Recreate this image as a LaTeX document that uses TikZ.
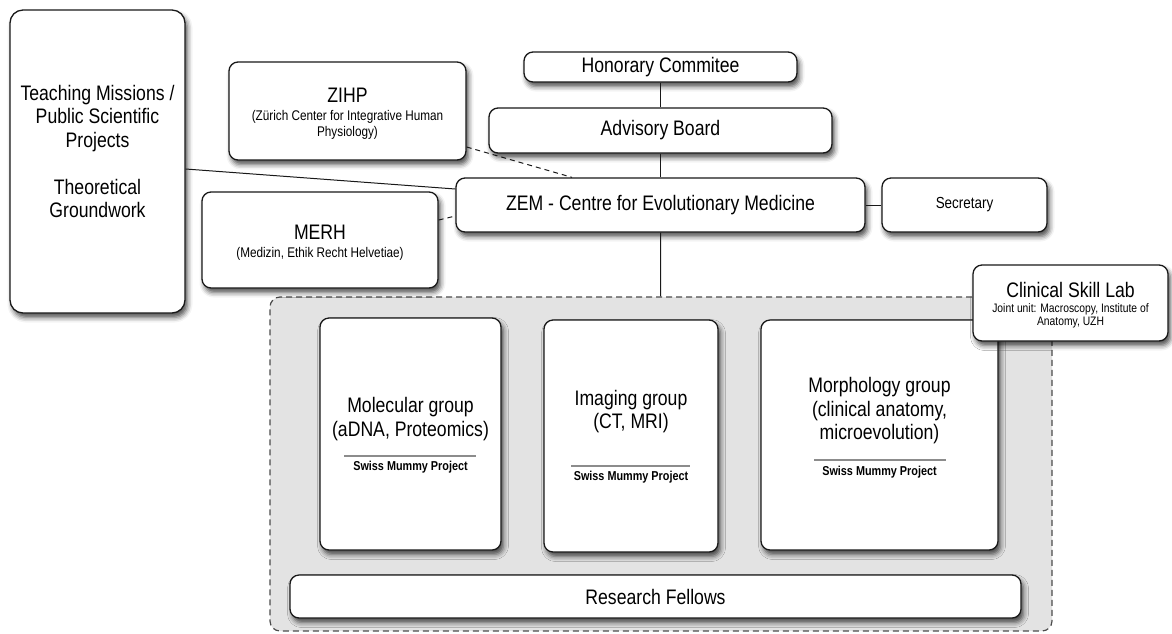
\documentclass[tikz,border=0pt]{standalone}
\usepackage{fontspec}
\setmainfont{Liberation Sans}[FakeStretch=0.84]
\usetikzlibrary{shadows.blur}

\newcommand\bigtxt{\fontsize{21}{23.5}\selectfont}
\newcommand\sectxt{\fontsize{16}{18}\selectfont}
\newcommand\subtxt{\fontsize{14}{16}\selectfont}
\newcommand\jointtxt{\fontsize{12.3}{13.5}\selectfont}
\newcommand\swisstxt{\fontsize{12.9}{14}\selectfont\bfseries}

\begin{document}
\begin{tikzpicture}[x=1pt,y=-1pt,
  box/.style={draw=black!90, line width=1.3pt, rounded corners=9pt, fill=white, inner sep=0pt, align=center, font=\bigtxt,
    blur shadow={shadow xshift=2.5pt, shadow yshift=-4.5pt, shadow blur radius=5pt, shadow opacity=70}},
  link/.style={black!90, line width=1pt},
  dlink/.style={link, dash pattern=on 5pt off 4pt},
  grayrule/.style={black!45, line width=1.2pt}]
\useasboundingbox (0,0) rectangle (1172,633);

\node [draw=black!70, line width=1.2pt, dash pattern=on 6pt off 4pt, rounded corners=10pt, left color=black!11, middle color=black!2, right color=black!11, minimum width=782pt, minimum height=334pt] (unit) at (661,464) {};

\node [box, rounded corners=13pt, minimum width=175pt, minimum height=303pt] (teach) at (97.5,161.5) {};
\node [font=\bigtxt, align=center] (teachtxt) at (97.5,151.5) {Teaching Missions /\\Public Scientific\\Projects\\[23.5pt]Theoretical\\Groundwork};

\node [box, minimum width=237pt, minimum height=98pt] (zihp) at (347.5,111) {};
\node [font=\bigtxt] (zihpname) at (347.5,95) {ZIHP};
\node [font=\subtxt, align=center] (zihpsub) at (347.5,125) {(Zürich Center for Integrative Human\\Physiology)};

\node [box, minimum width=236pt, minimum height=96pt] (merh) at (320,240) {};
\node [font=\bigtxt] (merhname) at (320,232) {MERH};
\node [font=\subtxt] (merhsub) at (320,254) {(Medizin, Ethik Recht Helvetiae)};

\node [box, minimum width=273pt, minimum height=30pt] (hon) at (660.5,67) {Honorary Commitee};
\node [box, minimum width=343pt, minimum height=45pt] (adv) at (660.5,130.5) {Advisory Board};
\node [box, minimum width=409pt, minimum height=54pt] (zem) at (660.5,205) {ZEM - Centre for Evolutionary Medicine};
\node [box, font=\sectxt, minimum width=165pt, minimum height=54pt] (sec) at (964.5,205) {Secretary};

\draw [link] (hon) -- (adv);
\draw [link] (adv) -- (zem);
\draw [link] (zem) -- (sec);
\draw [link] (zem) -- (unit);
\draw [link] ([yshift=-7.5pt]teach.east) -- ([yshift=16pt]zem.west);
\draw [dlink] ([yshift=20pt]merh.east) -- ([yshift=-11pt]zem.west);
\draw [dlink] ([yshift=-36pt]zihp.east) -- ([xshift=-88.5pt]zem.north);

\node [box, minimum width=181pt, minimum height=232pt] (mol) at (410.5,434) {};
\node [font=\bigtxt, align=center] (moltxt) at (410.5,419) {Molecular group\\(aDNA, Proteomics)};
\draw [grayrule] (344,456) -- (476,456);
\node [font=\swisstxt] (molsmp) at (410.5,467) {Swiss Mummy Project};

\node [box, minimum width=174pt, minimum height=232pt] (img) at (631,436) {};
\node [font=\bigtxt, align=center] (imgtxt) at (631,411.5) {Imaging group\\(CT, MRI)};
\draw [grayrule] (571,466) -- (690,466);
\node [font=\swisstxt] (imgsmp) at (631,477) {Swiss Mummy Project};

\node [box, minimum width=237pt, minimum height=230pt] (mor) at (879.5,435) {};
\node [font=\bigtxt, align=center] (mortxt) at (879.5,411) {Morphology group\\(clinical anatomy,\\microevolution)};
\draw [grayrule] (814,460) -- (946,460);
\node [font=\swisstxt] (morsmp) at (879.5,472) {Swiss Mummy Project};

\node [box, minimum width=731pt, minimum height=43pt] (fel) at (655.5,596.5) {Research Fellows};

\node [box, minimum width=195pt, minimum height=76pt] (csl) at (1070.5,303) {};
\node [font=\bigtxt] (cslname) at (1070.5,290) {Clinical Skill Lab};
\node [font=\jointtxt, align=center] (cslsub) at (1070.5,316) {Joint unit: Macroscopy, Institute of\\Anatomy, UZH};
\end{tikzpicture}
\end{document}
